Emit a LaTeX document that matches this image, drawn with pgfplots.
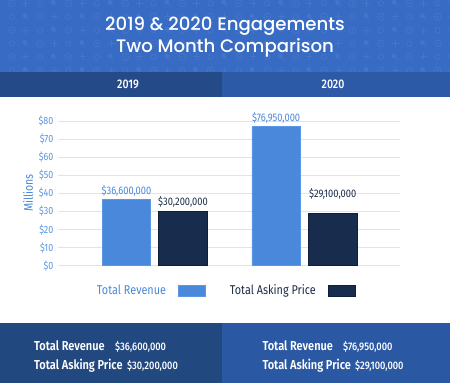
\documentclass[border=0pt]{standalone}
\usepackage{pgfplots}
\pgfplotsset{compat=1.18}
\usepackage{fontspec}
\setmainfont{Fira Sans}
\newfontfamily\cond{Fira Sans}[FakeStretch=0.85]
\newfontfamily\condm{Fira Sans}[UprightFont=* Medium, FakeStretch=0.85]
\newfontfamily\condsb{Fira Sans}[UprightFont=* SemiBold, FakeStretch=0.85]
\newfontfamily\titlefont{Poppins}[UprightFont=* Medium]
\definecolor{banner}{HTML}{386BC4}
\definecolor{bannericon}{HTML}{4575C8}
\definecolor{tabL}{HTML}{244A88}
\definecolor{tabR}{HTML}{2C5AA6}
\definecolor{botL}{HTML}{224880}
\definecolor{botR}{HTML}{2A58A3}
\definecolor{rev}{HTML}{4A88DC}
\definecolor{revedge}{HTML}{5B97E4}
\definecolor{ask}{HTML}{182D4E}
\definecolor{askedge}{HTML}{0F1F3A}
\definecolor{askt}{HTML}{1C2C46}
\definecolor{tickc}{HTML}{5B93E0}
\definecolor{gridc}{HTML}{E3E3E3}
\begin{document}
\begin{tikzpicture}[x=1bp,y=-1bp]
\fill[white] (0,0) rectangle (450,383);
% banner
\fill[banner] (0,0) rectangle (450,72.3);
\begin{scope}
\clip (0,0) rectangle (450,72.3);
\foreach \i in {0,...,32}{
  \foreach \j in {0,...,5}{
    \pgfmathsetmacro\px{11.7+14.2*\i}
    \pgfmathsetmacro\py{3.3+13.4*\j}
    \pgfmathtruncatemacro\k{mod(\i+2*\j,4)}
    \ifcase\k
      \draw[bannericon,line width=0.8bp] (\px,\py) circle (3.4);
      \fill[bannericon] (\px,\py) circle (1.1);
    \or
      \draw[bannericon,line width=0.9bp] (\px-3.5,\py) -- (\px+3.5,\py) (\px,\py-3.5) -- (\px,\py+3.5);
    \or
      \draw[bannericon,line width=0.8bp] (\px,\py) circle (2.6);
    \or
      \fill[bannericon] (\px-1,\py-1) circle (2.4);
      \draw[bannericon,line width=0.8bp] (\px,\py) -- (\px+2.5,\py+3.2);
    \fi
  }
}
\end{scope}
\node[white,font=\titlefont\fontsize{18.2}{21}\selectfont] at (225,26) {2019 \& 2020 Engagements};
\node[white,font=\titlefont\fontsize{18.2}{21}\selectfont] at (225,47.7) {Two Month Comparison};
% tabs
\fill[tabL] (0,72.3) rectangle (222.3,96.8);
\fill[tabR] (222.3,72.3) rectangle (450,96.8);
\node[white,font=\condm\fontsize{12.5}{14}\selectfont] at (128,84.6) {2019};
\node[white,font=\condm\fontsize{12.5}{14}\selectfont] at (333,84.6) {2020};
% bottom panel
\fill[botL] (0,323.3) rectangle (222.3,383);
\fill[botR] (222.3,323.3) rectangle (450,383);
\node[anchor=base west,white,inner sep=0pt,font=\condsb\fontsize{13}{15}\selectfont] at (34,350) {Total Revenue};
\node[anchor=base west,white,inner sep=0pt,font=\condm\fontsize{11}{12}\selectfont] at (115,350) {\$36,600,000};
\node[anchor=base west,white,inner sep=0pt,font=\condsb\fontsize{13}{15}\selectfont] at (34,369.5) {Total Asking Price};
\node[anchor=base west,white,inner sep=0pt,font=\condm\fontsize{11}{12}\selectfont] at (127,369.5) {\$30,200,000};
\node[anchor=base west,white,inner sep=0pt,font=\condsb\fontsize{13}{15}\selectfont] at (262.3,350) {Total Revenue};
\node[anchor=base west,white,inner sep=0pt,font=\condm\fontsize{11}{12}\selectfont] at (343,350) {\$76,950,000};
\node[anchor=base west,white,inner sep=0pt,font=\condsb\fontsize{13}{15}\selectfont] at (262.3,369.5) {Total Asking Price};
\node[anchor=base west,white,inner sep=0pt,font=\condm\fontsize{11}{12}\selectfont] at (355,369.5) {\$29,100,000};
% chart
\coordinate (axorig) at (58,265.7);
\begin{axis}[
  at={(axorig)}, anchor=south west,
  scale only axis, width=342bp, height=144.7bp,
  xmin=-0.6466, xmax=1.638, ymin=0, ymax=80,
  axis line style={draw=none},
  xtick=\empty,
  ytick={0,10,...,80},
  major tick length=0pt,
  ymajorgrids, grid style={draw=gridc, line width=0.8bp},
  /pgf/number format/assume math mode=true,
  yticklabel={\$\pgfmathprintnumber{\tick}},
  yticklabel style={font=\cond\fontsize{10.5}{12}\selectfont, text=tickc, anchor=east, inner sep=0pt, xshift=-4.5bp},
  ylabel={Millions},
  ylabel style={at={(axis description cs:-0.0877,0.5024)}, anchor=center, font=\cond\fontsize{12.5}{14}\selectfont, text=rev},
  ybar, bar width=48.5bp,
  clip=false,
  legend plot pos=right,
  legend columns=2,
  legend style={draw=none, fill=none, inner sep=0pt, outer sep=0pt,
    at={(axis description cs:0.114,-0.1728)}, anchor=west,
    font=\cond\fontsize{12.8}{14}\selectfont, column sep=0pt, nodes={inner sep=0pt}},
  legend image code/.code={\path (0bp,0bp) (63bp,0bp); \fill[#1] (12bp,-5.3bp) rectangle (39bp,5.3bp);},
  nodes near coords, point meta=explicit symbolic,
  every node near coord/.append style={font=\cond\fontsize{11}{12}\selectfont, anchor=south, inner sep=0pt, yshift=3bp},
]
\addplot[fill=rev, draw=revedge, line width=0.8bp, bar shift=-28.3bp,
  visualization depends on={value \thisrow{dy} \as \labdy},
  every node near coord/.append style={text=rev, yshift=\labdy}]
  table[x=x, y=y, meta=lab] {
  x y lab dy
  0 36.6 {\$36,600,000} 0bp
  1 76.95 {\$76,950,000} 0bp
};
\addlegendentry{\textcolor{rev}{Total Revenue}}
\addplot[fill=ask, draw=askedge, line width=0.8bp, bar shift=28.2bp,
  visualization depends on={value \thisrow{dy} \as \labdy},
  every node near coord/.append style={text=askt, yshift=\labdy}]
  table[x=x, y=y, meta=lab] {
  x y lab dy
  0 30.2 {\$30,200,000} 0bp
  1 29.1 {\$29,100,000} 10bp
};
\addlegendentry{\textcolor{askt}{Total Asking Price}}
\end{axis}
\pgfresetboundingbox
\useasboundingbox (0,0) rectangle (450,383);
\end{tikzpicture}
\end{document}
